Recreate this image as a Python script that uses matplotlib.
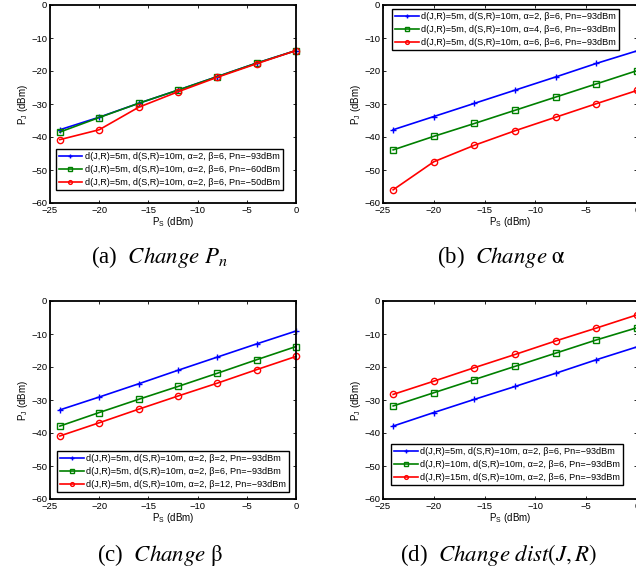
import numpy as np
import matplotlib.pyplot as plt

plt.rcParams['mathtext.fontset'] = 'stix'
plt.rcParams['font.family'] = ['Liberation Sans', 'DejaVu Sans']

ps = [-24, -20, -16, -12, -8, -4, 0]

# (a) change Pn
a_blue = [-37.8, -34.0, -29.8, -25.8, -21.7, -17.6, -13.8]
a_green = [-38.5, -34.1, -29.8, -25.8, -21.7, -17.6, -13.8]
a_red = [-40.8, -37.8, -31.0, -26.3, -21.9, -17.8, -13.8]
a_labels = ['d(J,R)=5m, d(S,R)=10m, α=2, β=6, Pn=−93dBm',
            'd(J,R)=5m, d(S,R)=10m, α=2, β=6, Pn=−60dBm',
            'd(J,R)=5m, d(S,R)=10m, α=2, β=6, Pn=−50dBm']

# (b) change alpha
b_blue = [-37.8, -33.8, -29.8, -25.8, -21.8, -17.7, -13.9]
b_green = [-43.9, -39.8, -35.9, -31.9, -27.9, -23.9, -19.9]
b_red = [-56.0, -47.5, -42.5, -38.1, -34.0, -29.9, -25.9]
b_labels = ['d(J,R)=5m, d(S,R)=10m, α=2, β=6, Pn=−93dBm',
            'd(J,R)=5m, d(S,R)=10m, α=4, β=6, Pn=−93dBm',
            'd(J,R)=5m, d(S,R)=10m, α=6, β=6, Pn=−93dBm']

# (c) change beta
c_blue = [-33.0, -29.1, -25.1, -21.0, -17.0, -13.0, -9.1]
c_green = [-37.9, -33.8, -29.8, -25.9, -21.9, -17.8, -13.8]
c_red = [-40.9, -36.9, -32.8, -28.8, -24.9, -20.8, -16.8]
c_labels = ['d(J,R)=5m, d(S,R)=10m, α=2, β=2, Pn=−93dBm',
            'd(J,R)=5m, d(S,R)=10m, α=2, β=6, Pn=−93dBm',
            'd(J,R)=5m, d(S,R)=10m, α=2, β=12, Pn=−93dBm']

# (d) change dist(J,R)
d_blue = [-37.9, -33.8, -29.8, -25.9, -21.9, -17.8, -13.9]
d_green = [-31.8, -27.8, -23.8, -19.8, -15.8, -11.8, -8.1]
d_red = [-28.3, -24.3, -20.2, -16.2, -12.1, -8.2, -4.2]
d_labels = ['d(J,R)=5m, d(S,R)=10m, α=2, β=6, Pn=−93dBm',
            'd(J,R)=10m, d(S,R)=10m, α=2, β=6, Pn=−93dBm',
            'd(J,R)=15m, d(S,R)=10m, α=2, β=6, Pn=−93dBm']

captions = [r'(a)  $\mathit{Change}\ P_n$', r'(b)  $\mathit{Change}\ \mathrm{\alpha}$',
            r'(c)  $\mathit{Change}\ \mathrm{\beta}$', r'(d)  $\mathit{Change}\ dist(J,R)$']

W, H = 636, 567
fig = plt.figure(figsize=(W / 100, H / 100), dpi=100)


def make_axes(l, t, r, b):
    return fig.add_axes([l / W, 1 - b / H, (r - l) / W, (b - t) / H])


panels = [
    (make_axes(50, 5, 296, 203), (a_blue, a_green, a_red), a_labels, 'lower right', (0.947, 0.066)),
    (make_axes(383, 5, 637, 203), (b_blue, b_green, b_red), b_labels, 'upper left', (0.036, 0.98)),
    (make_axes(50, 301, 296, 499), (c_blue, c_green, c_red), c_labels, 'lower right', (0.972, 0.035)),
    (make_axes(383, 301, 637, 499), (d_blue, d_green, d_red), d_labels, 'lower left', (0.032, 0.071)),
]

styles = [dict(color='blue', marker='+', markersize=4.5),
          dict(color='green', marker='s', markersize=3.8, markerfacecolor='none'),
          dict(color='red', marker='o', markersize=4.5, markerfacecolor='none')]

for ax, series, labels, loc, anchor in panels:
    for ys, lab, st in zip(series, labels, styles):
        ax.plot(ps, ys, linewidth=1.2, markeredgewidth=1.0, label=lab, clip_on=False, **st)
    ax.set_xlim(-25, 0)
    ax.set_ylim(-60, 0)
    ax.set_xticks([-25, -20, -15, -10, -5, 0])
    ax.set_yticks([-60, -50, -40, -30, -20, -10, 0])
    ax.tick_params(direction='in', top=True, right=True, labelsize=6.8, length=2.5, width=0.6, pad=2)
    for sp in ax.spines.values():
        sp.set_linewidth(1.3)
    ax.set_xlabel(r'P$_\mathregular{S}$ (dBm)', fontsize=7, labelpad=0)
    ax.set_ylabel(r'P$_\mathregular{J}$ (dBm)', fontsize=7, labelpad=1)
    leg = ax.legend(loc=loc, bbox_to_anchor=anchor, fontsize=6.6, handlelength=2.6,
                    markerscale=0.6, fancybox=False, edgecolor='black', framealpha=1,
                    borderpad=0.3, labelspacing=0.45, handletextpad=0.3, borderaxespad=0)
    leg.get_frame().set_linewidth(1.0)

cap_pos = [(160, 257), (501, 257), (160, 555), (499, 555)]
for (cx, cy), cap in zip(cap_pos, captions):
    fig.text(cx / W, 1 - cy / H, cap, ha='center', va='center', fontsize=16.5,
             family='Liberation Serif')

fig.savefig('out.png', dpi=100)
